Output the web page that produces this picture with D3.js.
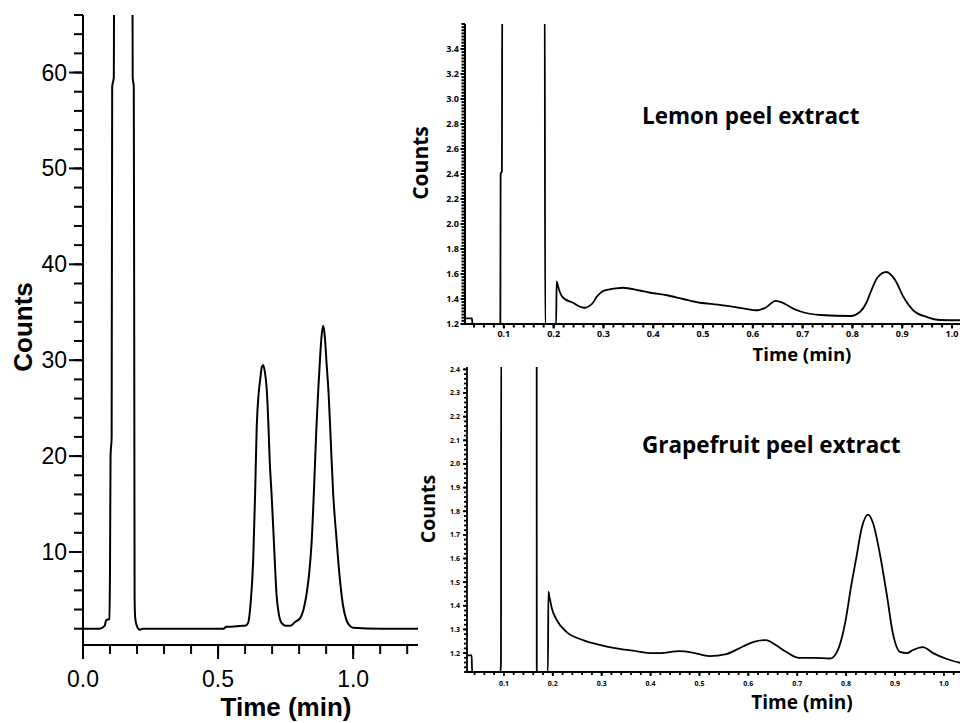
<!DOCTYPE html>
<html>
<head>
<meta charset="utf-8">
<script src="https://cdn.jsdelivr.net/npm/d3@7"></script>
<style>
  body { margin: 0; background: #fff; }
  svg { display: block; }
  .trace { fill: none; stroke: #000; stroke-linejoin: round; }
</style>
</head>
<body>
<svg id="chart" width="960" height="723"></svg>
<script>
// ---- standards chromatogram (left) ----
const leftTime = [0.000, 0.060, 0.080, 0.086, 0.098, 0.100, 0.102, 0.106, 0.108, 0.114, 0.116,
  0.182, 0.184, 0.188, 0.190, 0.191, 0.193, 0.198, 0.210, 0.222, 0.230, 0.400, 0.520, 0.530, 0.550,
  0.590, 0.600, 0.611, 0.620, 0.630, 0.637, 0.643, 0.650, 0.656, 0.662, 0.667, 0.673, 0.680, 0.686,
  0.691, 0.698, 0.704, 0.710, 0.716, 0.725, 0.735, 0.750, 0.767, 0.785, 0.804, 0.818, 0.828, 0.838,
  0.846, 0.855, 0.864, 0.871, 0.877, 0.883, 0.889, 0.895, 0.902, 0.909, 0.918, 0.926, 0.938, 0.950,
  0.962, 0.975, 0.988, 1.000, 1.100, 1.240];
const leftCounts = [2.0, 2.0, 2.3, 2.9, 3.0, 8.5, 20, 22, 58.5, 59.5, 80,
  80, 59.5, 58.5, 24.5, 5.2, 3.2, 2.4, 1.9, 2.0, 2.0, 2.0, 2.0, 2.2, 2.2,
  2.3, 2.3, 2.6, 4.5, 9.2, 16, 23, 26.5, 28, 29.3, 29.5, 28.8, 27, 23.5,
  19.6, 16, 12.6, 9, 5.7, 3.5, 2.6, 2.3, 2.3, 2.7, 3.1, 4.2, 5.7, 8,
  10.9, 16.5, 23, 27, 30, 32.5, 33.6, 32.5, 29.5, 26.6, 21, 16.1, 11.5, 7.4,
  4.5, 2.9, 2.3, 2.1, 2.0, 2.0];
const leftXTicks = [0.0, 0.5, 1.0];
const leftYTicks = [10, 20, 30, 40, 50, 60];

// ---- lemon peel extract (top right) ----
const lemonTime = [0.023, 0.036, 0.037, 0.093, 0.0935, 0.096, 0.097, 0.182, 0.183, 0.205, 0.206,
  0.209, 0.213, 0.219, 0.239, 0.255, 0.263, 0.272, 0.279, 0.286, 0.293, 0.300, 0.310, 0.325, 0.340,
  0.370, 0.394, 0.428, 0.460, 0.494, 0.530, 0.549, 0.580, 0.610, 0.625, 0.646, 0.665, 0.680, 0.696,
  0.736, 0.796, 0.816, 0.828, 0.836, 0.850, 0.868, 0.886, 0.902, 0.922, 0.950, 0.976, 1.020];
const lemonCounts = [1.245, 1.245, 1.2, 1.2, 2.4, 2.42, 4.0, 4.0, 1.2, 1.2, 1.54,
  1.50, 1.45, 1.41, 1.37, 1.335, 1.33, 1.345, 1.37, 1.415, 1.445, 1.465, 1.475, 1.485, 1.49,
  1.47, 1.45, 1.43, 1.40, 1.37, 1.355, 1.345, 1.325, 1.31, 1.33, 1.385, 1.36, 1.325, 1.30,
  1.272, 1.264, 1.30, 1.37, 1.45, 1.57, 1.616, 1.55, 1.42, 1.31, 1.255, 1.232, 1.23];
const lemonXTicks = [0.1, 0.2, 0.3, 0.4, 0.5, 0.6, 0.7, 0.8, 0.9, 1.0];
const lemonYTicks = [1.2, 1.4, 1.6, 1.8, 2.0, 2.2, 2.4, 2.6, 2.8, 3.0, 3.2, 3.4];

// ---- grapefruit peel extract (bottom right) ----
const grapeTime = [0.025, 0.034, 0.035, 0.093, 0.0935, 0.094, 0.0945, 0.167, 0.1672, 0.190, 0.191,
  0.193, 0.198, 0.208, 0.228, 0.262, 0.296, 0.330, 0.364, 0.398, 0.418, 0.459, 0.490, 0.520, 0.555,
  0.588, 0.615, 0.636, 0.655, 0.677, 0.704, 0.735, 0.767, 0.780, 0.790, 0.800, 0.810, 0.821, 0.832,
  0.845, 0.855, 0.869, 0.883, 0.896, 0.910, 0.924, 0.937, 0.957, 0.978, 1.006, 1.035];
const grapeCounts = [1.19, 1.19, 1.12, 1.12, 1.14, 1.16, 2.6, 2.6, 1.12, 1.12, 1.46,
  1.44, 1.39, 1.34, 1.29, 1.255, 1.235, 1.22, 1.21, 1.20, 1.20, 1.208, 1.20, 1.187, 1.196,
  1.227, 1.25, 1.255, 1.235, 1.206, 1.18, 1.18, 1.177, 1.20, 1.255, 1.35, 1.48, 1.605, 1.73,
  1.786, 1.75, 1.62, 1.45, 1.28, 1.205, 1.20, 1.213, 1.225, 1.20, 1.175, 1.158];
const grapeXTicks = [0.1, 0.2, 0.3, 0.4, 0.5, 0.6, 0.7, 0.8, 0.9, 1.0];
const grapeYTicks = [1.2, 1.3, 1.4, 1.5, 1.6, 1.7, 1.8, 1.9, 2.0, 2.1, 2.2, 2.3, 2.4];

const svg = d3.select('#chart');
const defs = svg.append('defs');

function zip(ts, vs) { return ts.map((t, i) => [t, vs[i]]); }

function panel(opt) {
  const x = d3.scaleLinear().domain(opt.xDomain).range(opt.xRange),
        y = d3.scaleLinear().domain(opt.yDomain).range(opt.yRange);
  const x0 = opt.xRange[0], y0 = opt.yRange[0];
  const g = svg.append('g');

  defs.append('clipPath').attr('id', opt.id)
    .append('rect')
    .attr('x', x0 - 10).attr('y', opt.yRange[1])
    .attr('width', opt.xRange[1] - x0 + 10).attr('height', y0 - opt.yRange[1] + 1);

  // tick marks (minor, then major)
  const ticks = g.append('g').attr('stroke', '#000').attr('stroke-width', opt.axisWidth);
  ticks.selectAll('.xm').data(opt.xMinor).join('line')
    .attr('x1', d => x(d)).attr('x2', d => x(d))
    .attr('y1', y0).attr('y2', y0 + opt.minorLen);
  ticks.selectAll('.xM').data(opt.xTicks).join('line')
    .attr('x1', d => x(d)).attr('x2', d => x(d))
    .attr('y1', y0).attr('y2', y0 + opt.majorLen);
  ticks.selectAll('.ym').data(opt.yMinor).join('line')
    .attr('y1', d => y(d)).attr('y2', d => y(d))
    .attr('x1', x0).attr('x2', x0 - opt.minorLen);
  ticks.selectAll('.yM').data(opt.yTicks).join('line')
    .attr('y1', d => y(d)).attr('y2', d => y(d))
    .attr('x1', x0).attr('x2', x0 - opt.majorLen);

  // axis lines
  g.append('path')
    .attr('fill', 'none').attr('stroke', '#000').attr('stroke-width', opt.axisWidth)
    .attr('d', `M${x0},${opt.yRange[1]}V${y0}H${opt.xRange[1]}`);

  // tick labels
  const font = s => s.style('font-family', opt.tickFont)
    .style('font-size', opt.tickSize + 'px').style('font-weight', opt.tickWeight);
  g.append('g').call(font).attr('text-anchor', 'middle')
    .selectAll('text').data(opt.xTicks).join('text')
    .attr('x', d => x(d)).attr('y', y0 + opt.xLabelDy)
    .text(d3.format('.1f'));
  g.append('g').call(font).attr('text-anchor', 'end')
    .selectAll('text').data(opt.yTicks).join('text')
    .attr('x', x0 - opt.yLabelDx).attr('y', d => y(d)).attr('dy', '0.35em')
    .text(opt.yFormat);

  const line = d3.line().x(d => x(d[0])).y(d => y(d[1])).curve(d3.curveMonotoneX);
  g.append('path')
    .datum(zip(opt.time, opt.counts))
    .attr('class', 'trace')
    .attr('clip-path', `url(#${opt.id})`)
    .style('stroke-width', opt.lineWidth)
    .attr('d', line);
}

panel({
  id: 'clipLeft', xDomain: [0, 1.24], xRange: [83, 418], yDomain: [0.3, 66], yRange: [645, 15],
  xTicks: leftXTicks, yTicks: leftYTicks,
  xMinor: d3.range(0, 13).map(i => i / 10), yMinor: d3.range(1, 34).map(i => i * 2),
  minorLen: 9, majorLen: 14, axisWidth: 2, xLabelDy: 42, yLabelDx: 16, yFormat: d3.format('d'),
  tickFont: '"Liberation Sans", Arial, sans-serif', tickSize: 23, tickWeight: 'normal',
  time: leftTime, counts: leftCounts, lineWidth: 2
});

panel({
  id: 'clipLemon', xDomain: [0.022, 1.02], xRange: [465, 962], yDomain: [1.2, 3.6], yRange: [324, 24],
  xTicks: lemonXTicks, yTicks: lemonYTicks,
  xMinor: d3.range(2, 52).map(i => i / 50), yMinor: d3.range(0, 97).map(i => 1.2 + i * 0.025),
  minorLen: 3.5, majorLen: 4.5, axisWidth: 2, xLabelDy: 13, yLabelDx: 6, yFormat: d3.format('.1f'),
  tickFont: '"Open Sans", sans-serif', tickSize: 9, tickWeight: 'bold',
  time: lemonTime, counts: lemonCounts, lineWidth: 1.8
});

panel({
  id: 'clipGrape', xDomain: [0.0245, 1.035], xRange: [467, 961], yDomain: [1.12, 2.41], yRange: [672, 367],
  xTicks: grapeXTicks, yTicks: grapeYTicks,
  xMinor: d3.range(2, 52).map(i => i / 50), yMinor: d3.range(0, 65).map(i => 1.12 + i * 0.02),
  minorLen: 3, majorLen: 4, axisWidth: 1.8, xLabelDy: 14, yLabelDx: 7, yFormat: d3.format('.1f'),
  tickFont: '"Open Sans", sans-serif', tickSize: 7, tickWeight: 'bold',
  time: grapeTime, counts: grapeCounts, lineWidth: 1.8
});

// ---- labels ----
function label(txt, x, y, font, size, rotate, anchor) {
  const t = svg.append('text')
    .attr('text-anchor', anchor || 'middle')
    .style('font-family', font).style('font-size', size + 'px').style('font-weight', 'bold')
    .text(txt);
  if (rotate) t.attr('transform', `translate(${x},${y}) rotate(-90)`);
  else t.attr('x', x).attr('y', y);
}
const arial = '"Liberation Sans", Arial, sans-serif', open = '"Open Sans", sans-serif';
label('Counts', 32, 327, arial, 26, true);
label('Time (min)', 286, 716, arial, 26);
label('Counts', 428, 163, open, 21, true);
label('Time (min)', 802, 361, open, 18.5);
label('Lemon peel extract', 642, 124, open, 22.5, false, 'start');
label('Counts', 435, 509, open, 19.5, true);
label('Time (min)', 802, 709, open, 19);
label('Grapefruit peel extract', 642, 453, open, 22.5, false, 'start');
</script>
</body>
</html>
